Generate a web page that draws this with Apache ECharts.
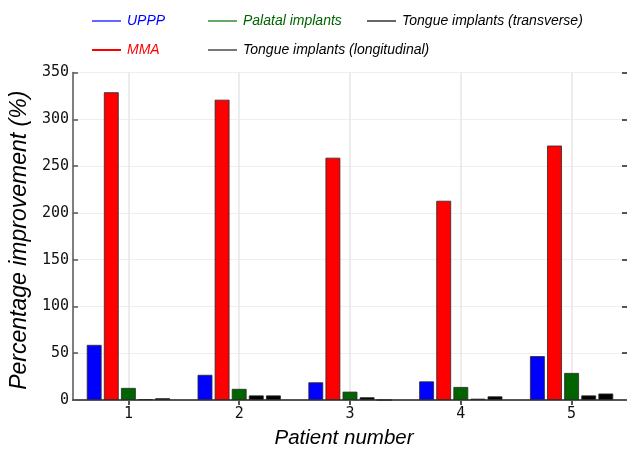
<!DOCTYPE html>
<html><head><meta charset="utf-8">
<script src="https://cdn.jsdelivr.net/npm/echarts@6/dist/echarts.min.js"></script>
<style>html,body{margin:0;padding:0;background:#fff;overflow:hidden}#c{width:627px;height:453px}</style>
</head><body><div id="c"></div>
<script>
const categories = ['1','2','3','4','5'];
const uppp = [59, 27, 19, 20, 47];
const mma = [329, 321, 259, 213, 272];
const palatal = [13, 12, 9, 14, 29];
const tongueTrans = [1, 5, 3, 1.5, 5];
const tongueLong = [2, 5, 0, 4, 7];
const yTicks = [0, 50, 100, 150, 200, 250, 300, 350];

const chart = echarts.init(document.getElementById('c'));
const mono = 'DejaVu Sans Mono';
const sans = 'Liberation Sans';
const border = {borderColor: 'rgba(40,40,40,0.8)', borderWidth: 1};
function bar(name, data, color) {
  return {name, type: 'bar', data, barWidth: 15, barGap: '14%',
    itemStyle: Object.assign({color}, border), emphasis: {disabled: true}};
}
function leg(name, left, top, lineColor, textColor, h) {
  return {left, top, icon: 'rect', itemWidth: 29, itemHeight: h, itemGap: 0,
    selectedMode: false,
    data: [{name, itemStyle: {color: lineColor, borderWidth: 0}, textStyle: {color: textColor}}],
    textStyle: {fontFamily: sans, fontStyle: 'italic', fontSize: 14, padding: [0,0,0,1]}};
}
chart.setOption({
  animation: false,
  grid: {left: 70, right: -1, top: 72.5, bottom: 48.5},
  legend: [
    leg('UPPP', 87, 9, '#0000ff', '#0000ff', 1.2),
    leg('Palatal implants', 203, 9, '#007000', '#006400', 1.2),
    leg('Tongue implants (transverse)', 362, 9, '#000', '#000', 1.2),
    leg('MMA', 87, 38, '#ff0000', '#ff0000', 2),
    leg('Tongue implants (longitudinal)', 203, 38, '#777', '#000', 2)
  ],
  xAxis: [{
    type: 'category', data: categories, position: 'bottom',
    name: 'Patient number', nameLocation: 'middle', nameGap: 28,
    nameTextStyle: {fontFamily: sans, fontStyle: 'italic', fontSize: 20.5, color: '#000', padding: [0, 12, 0, 0]},
    axisLine: {lineStyle: {color: '#555', width: 1.5}},
    axisTick: {show: true, inside: true, alignWithLabel: true, length: 5, lineStyle: {color: '#555'}},
    axisLabel: {fontFamily: mono, fontSize: 15, color: '#111', margin: 7},
    splitLine: {show: true, alignWithLabel: true, lineStyle: {color: '#e6e6e6', width: 1.5}}
  }, {
    type: 'category', data: categories, position: 'top',
    axisLine: {lineStyle: {color: '#555', width: 2}},
    axisTick: {show: true, inside: true, alignWithLabel: true, length: 5, lineStyle: {color: '#555', width: 2}},
    axisLabel: {show: false}, splitLine: {show: false}
  }],
  yAxis: [{
    type: 'value', min: 0, max: 350, interval: 50,
    name: 'Percentage improvement (%)', nameLocation: 'middle', nameGap: 30,
    nameTextStyle: {fontFamily: sans, fontStyle: 'italic', fontSize: 23, color: '#000', padding: [0, 8, 0, 0]},
    axisLine: {show: true, lineStyle: {color: '#555', width: 1.5}},
    axisTick: {show: true, inside: true, length: 5, lineStyle: {color: '#555', width: 1.5}},
    axisLabel: {fontFamily: mono, fontSize: 15, color: '#111', margin: 4,
      formatter: v => yTicks.includes(v) ? String(v) : ''},
    splitLine: {show: true, lineStyle: {color: '#efefef', width: 1}}
  }, {
    type: 'value', min: 0, max: 350, interval: 50, position: 'right',
    axisLine: {show: false},
    axisTick: {show: true, inside: true, length: 5, lineStyle: {color: '#555', width: 2}},
    axisLabel: {show: false}, splitLine: {show: false}
  }],
  series: [
    bar('UPPP', uppp, '#0000ff'),
    bar('MMA', mma, '#ff0000'),
    bar('Palatal implants', palatal, '#006400'),
    bar('Tongue implants (transverse)', tongueTrans, '#000000'),
    bar('Tongue implants (longitudinal)', tongueLong, '#000000')
  ]
});
</script></body></html>
